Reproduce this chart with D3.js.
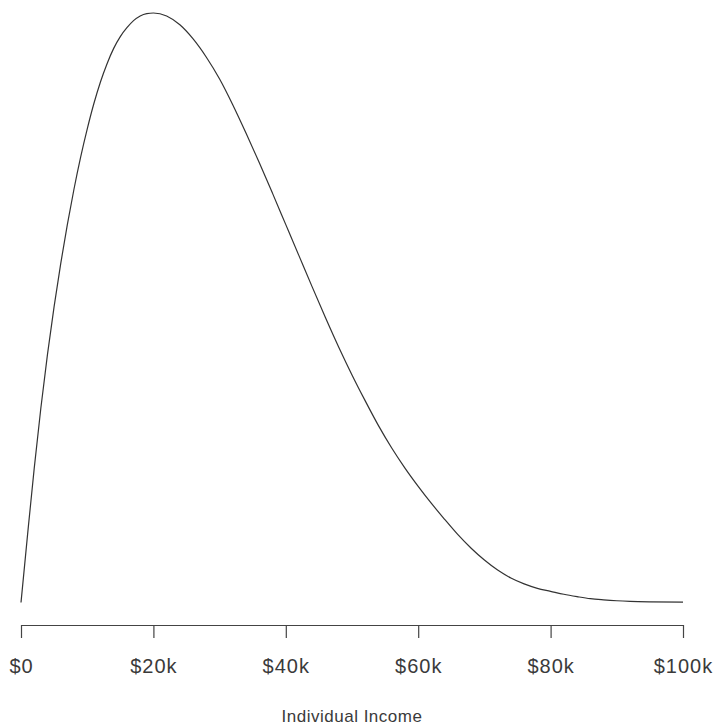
<!DOCTYPE html>
<html>
<head>
<meta charset="utf-8">
<script src="https://cdn.jsdelivr.net/npm/d3@7"></script>
<style>
  body { margin: 0; background: #fff; }
  .tick-label { font-family: "Liberation Sans", Arial, sans-serif; font-size: 20px; letter-spacing: 1px; fill: #3a3a3a; }
  .axis-title { font-family: "Liberation Sans", Arial, sans-serif; font-size: 17px; letter-spacing: 0.5px; fill: #3a3a3a; }
</style>
</head>
<body>
<div id="chart"></div>
<script>
// income in $k
const incomeK = [0, 1, 2, 3, 4, 5, 6, 7, 8, 9, 10, 11, 12, 13, 14, 15, 16, 17, 18, 19, 20,
  22, 24, 26, 28, 30, 32, 34, 36, 38, 40, 42, 44, 46, 48, 50, 52, 54, 56, 58, 60,
  62, 64, 66, 68, 70, 72, 74, 76, 78, 80, 82, 84, 86, 88, 90, 92, 95, 100];
// density relative to the peak
const density = [0, 0.116, 0.228, 0.330, 0.421, 0.502, 0.575, 0.641, 0.701, 0.755, 0.803,
  0.846, 0.883, 0.914, 0.940, 0.960, 0.975, 0.987, 0.995, 0.999, 1.0,
  0.995, 0.980, 0.956, 0.925, 0.888, 0.844, 0.796, 0.746, 0.694, 0.641,
  0.588, 0.535, 0.483, 0.433, 0.386, 0.342, 0.300, 0.262, 0.228, 0.197,
  0.168, 0.141, 0.115, 0.092, 0.072, 0.055, 0.0415, 0.0315, 0.024, 0.019,
  0.014, 0.010, 0.0065, 0.0045, 0.003, 0.002, 0.0012, 0.0007];
const tickValues = [0, 20, 40, 60, 80, 100];
const tickLabels = ['$0', '$20k', '$40k', '$60k', '$80k', '$100k'];
const xTitle = 'Individual Income';

const width = 716, height = 727;

const svg = d3.select('#chart').append('svg')
    .attr('width', width)
    .attr('height', height);

const x = d3.scaleLinear().domain([0, 100]).range([21, 683]);
const y = d3.scaleLinear().domain([0, 1]).range([602.5, 13]);

const points = incomeK.map((k, i) => ({k: k, d: density[i]}));

const line = d3.line()
    .x(p => x(p.k))
    .y(p => y(p.d))
    .curve(d3.curveMonotoneX);

svg.append('path')
    .datum(points)
    .attr('d', line)
    .attr('fill', 'none')
    .attr('stroke', '#333')
    .attr('stroke-width', 1.2);

// x axis
const axisY = 625;
const xAxis = d3.axisBottom(x)
    .tickValues(tickValues)
    .tickSize(13)
    .tickSizeOuter(0)
    .tickFormat((d, i) => tickLabels[i]);

const gx = svg.append('g')
    .attr('transform', `translate(0,${axisY})`)
    .call(xAxis);

gx.select('.domain').attr('stroke', '#444').attr('stroke-width', 1.2);
gx.selectAll('.tick line').attr('stroke', '#444').attr('stroke-width', 1.2);
gx.selectAll('.tick text')
    .attr('class', 'tick-label')
    .attr('font-size', null)
    .attr('font-family', null)
    .attr('fill', null)
    .attr('y', 48)
    .attr('dy', null);

svg.append('text')
    .attr('class', 'axis-title')
    .attr('x', (x(0) + x(100)) / 2)
    .attr('y', 722)
    .attr('text-anchor', 'middle')
    .text(xTitle);
</script>
</body>
</html>
